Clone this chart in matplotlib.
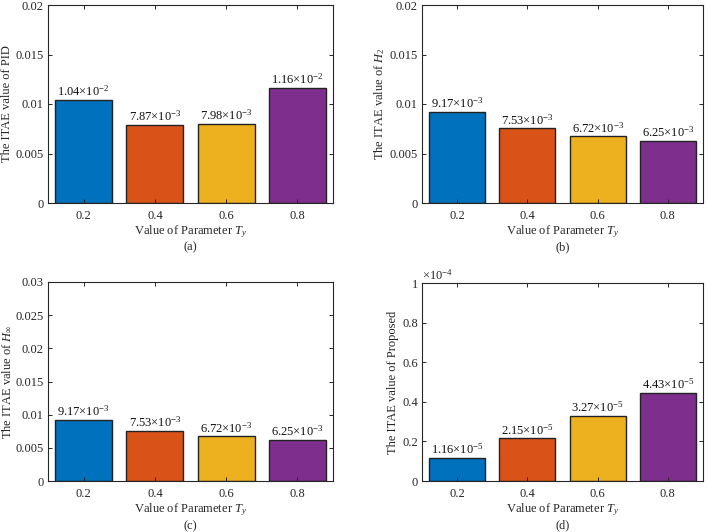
import matplotlib
matplotlib.use("Agg")
import matplotlib.pyplot as plt
from matplotlib.ticker import FuncFormatter
import numpy as np

plt.rcParams['font.family'] = ['Liberation Serif', 'DejaVu Serif']
plt.rcParams['mathtext.fontset'] = 'custom'
plt.rcParams['mathtext.rm'] = 'Liberation Serif'
plt.rcParams['mathtext.it'] = 'Liberation Serif:italic'
plt.rcParams['mathtext.bf'] = 'Liberation Serif:bold'

categories = ['0.2', '0.4', '0.6', '0.8']
pid_vals = [1.04e-2, 7.87e-3, 7.98e-3, 1.16e-2]
h2_vals = [9.17e-3, 7.53e-3, 6.72e-3, 6.25e-3]
hinf_vals = [9.17e-3, 7.53e-3, 6.72e-3, 6.25e-3]
prop_vals = [1.16e-5, 2.15e-5, 3.27e-5, 4.43e-5]

colors = ['#0072BD', '#D95319', '#EDB120', '#7E2F8E']

W, H = 708, 532
fig = plt.figure(figsize=(W / 100, H / 100), dpi=100)
FS = 9.0
TXT = '#262626'

def px_axes(l, r, t, b):
    return fig.add_axes([l / W, 1 - b / H, (r - l) / W, (b - t) / H])

def fmt_label(v):
    e = int(np.floor(np.log10(v)))
    m = v / 10 ** e
    return r'$%.2f{\times}10^{%d}$' % (m, e)

panels = [
    (pid_vals, (48, 333, 5, 203), 0.02, [0, 0.005, 0.01, 0.015, 0.02], 'The ITAE value of PID', '(a)', 1),
    (h2_vals, (422, 703, 5, 203), 0.02, [0, 0.005, 0.01, 0.015, 0.02], r'The ITAE value of $H_2$', '(b)', 1),
    (hinf_vals, (48, 333, 282, 481), 0.03, [0, 0.005, 0.01, 0.015, 0.02, 0.025, 0.03], r'The ITAE value of $H_\infty$', '(c)', 1),
    (prop_vals, (422, 703, 283, 481), 1e-4, [0, 0.2e-4, 0.4e-4, 0.6e-4, 0.8e-4, 1e-4], 'The ITAE value of Proposed', '(d)', 1e-4),
]

x = np.arange(1, 5)
for vals, box, ymax, ticks, ylab, tag, scale in panels:
    ax = px_axes(*box)
    ax.bar(x, vals, width=0.8, color=colors, edgecolor='#222222', linewidth=1.0)
    ax.set_xlim(0.5, 4.5)
    ax.set_ylim(0, ymax)
    ax.set_xticks(x)
    ax.set_xticklabels(categories)
    ax.set_yticks(ticks)
    ax.yaxis.set_major_formatter(FuncFormatter(lambda v, p, s=scale: '%g' % round(v / s, 6)))
    ax.tick_params(direction='in', top=True, right=True, length=3, width=0.7,
                   labelsize=FS, colors=TXT, pad=3)
    ax.tick_params(axis='x', pad=5)
    for spine in ax.spines.values():
        spine.set_linewidth(0.8)
        spine.set_color(TXT)
    ax.set_ylabel(ylab, fontsize=FS, color=TXT, labelpad=2)
    ax.set_xlabel(r'Value of Parameter $T_y$', fontsize=FS, color=TXT, labelpad=1)
    for xi, v in zip(x, vals):
        ax.text(xi, v + ymax * 0.006, fmt_label(v), ha='center', va='bottom',
                fontsize=FS, color='#111111')
    ax.text(0.5, -0.226, tag, transform=ax.transAxes, ha='center', va='center',
            fontsize=FS, color=TXT)
    if scale != 1:
        ax.text(0.0, 1.003, r'$\times10^{-4}$', transform=ax.transAxes, ha='left',
                va='bottom', fontsize=FS, color=TXT)

fig.savefig('out.png', dpi=100)
